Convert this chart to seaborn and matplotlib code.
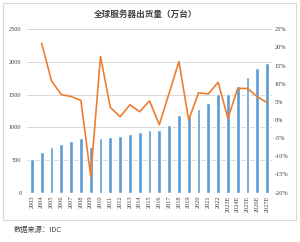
import matplotlib
matplotlib.use("Agg")
import matplotlib.pyplot as plt
from matplotlib.patches import Rectangle
from matplotlib.ticker import FuncFormatter
import numpy as np
import pandas as pd
import seaborn as sns

years = ["2003", "2004", "2005", "2006", "2007", "2008", "2009", "2010", "2011", "2012",
         "2013", "2014", "2015", "2016", "2017", "2018", "2019", "2020", "2021", "2022",
         "2023E", "2024E", "2025E", "2026E", "2027E"]
shipments = [520, 628, 697, 748, 794, 836, 706, 830, 858, 865,
             898, 923, 966, 954, 1028, 1195, 1170, 1274, 1372, 1506,
             1506, 1635, 1770, 1904, 1984]
growth = [np.nan, 21.1, 10.8, 7.0, 6.5, 5.4, -15.5, 17.5, 3.5, 0.9,
          4.2, 2.3, 5.3, -1.3, 7.4, 16.1, 0.0, 7.5, 7.2, 10.4,
          0.5, 8.7, 8.7, 6.4, 4.8]
title = "全球服务器出货量（万台）"
source = "数据来源：IDC"

df = pd.DataFrame({"year": years, "shipments": shipments, "growth": growth})
df["pos"] = np.arange(len(df))

sns.set_theme(style="white")
plt.rcParams["font.family"] = ["Liberation Serif", "DejaVu Sans"]

fig = plt.figure(figsize=(3.0, 2.42), dpi=100)
fig.patch.set_facecolor("white")
fig.add_artist(Rectangle((0.01, 0.091), 0.977, 0.897, transform=fig.transFigure,
                         fill=False, edgecolor="#D9D9D9", linewidth=0.8))

ax = fig.add_axes([0.09, 0.204, 0.8167, 0.675])
sns.barplot(data=df, x="year", y="shipments", color="#5B9BD5", saturation=1,
            width=0.38, ax=ax, zorder=2)
ax.set_ylim(0, 2500)
ax.set_yticks(np.arange(0, 2501, 500))
ax.set_xlim(-0.5, len(years) - 0.5)
ax.yaxis.grid(True, color="#D9D9D9", linewidth=0.7, zorder=0)
ax.set_axisbelow(True)
ax.set_xlabel("")
ax.set_ylabel("")
for s in ax.spines.values():
    s.set_visible(False)
ax.tick_params(axis="both", length=0, labelsize=4.5, colors="#404040")
ax.tick_params(axis="y", pad=4)
ax.tick_params(axis="x", pad=2)
for lab in ax.get_xticklabels():
    lab.set_rotation(90)

ax2 = ax.twinx()
sns.lineplot(data=df, x="pos", y="growth", color="#ED7D31", linewidth=1.2, ax=ax2)
ax2.set_ylim(-20, 25)
ax2.set_yticks(np.arange(-20, 26, 5))
ax2.yaxis.set_major_formatter(FuncFormatter(lambda v, p: f"{int(round(v))}%"))
ax2.set_ylabel("")
ax2.set_xlabel("")
ax2.set_xlim(-0.5, len(years) - 0.5)
for s in ax2.spines.values():
    s.set_visible(False)
ax2.tick_params(axis="y", length=0, labelsize=4.5, colors="#404040", pad=2)
ax2.grid(False)

fig.text(0.485, 0.942, title, ha="center", va="center", fontsize=6.2, fontweight="bold",
         family=["Noto Sans CJK SC", "DejaVu Sans"], color="#404040")
fig.text(0.047, 0.05, source, ha="left", va="center", fontsize=5.2,
         family=["Noto Sans CJK SC", "DejaVu Sans"], color="#404040")

fig.savefig("out.png", dpi=100)
